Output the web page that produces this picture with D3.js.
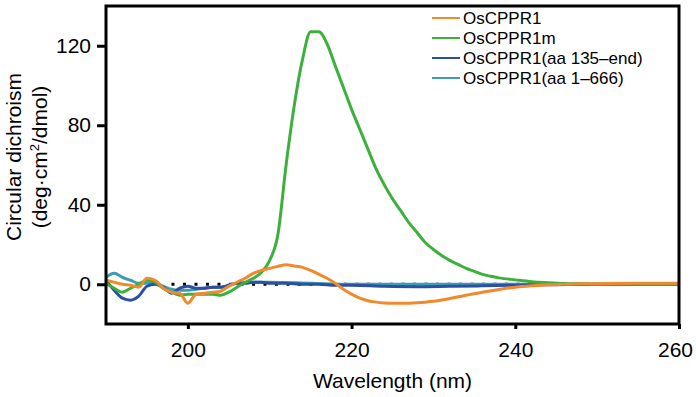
<!DOCTYPE html>
<html>
<head>
<meta charset="utf-8">
<script src="https://cdn.jsdelivr.net/npm/d3@7"></script>
<style>
  html, body { margin: 0; padding: 0; background: #fff; }
  svg { display: block; font-family: "Liberation Sans", Arial, sans-serif; }
</style>
</head>
<body>
<svg id="chart" width="696" height="397"></svg>
<script>
// --- data ---
const xTicks = [200, 220, 240, 260];
const yTicks = [0, 40, 80, 120];

const seriesNames = ['OsCPPR1', 'OsCPPR1m', 'OsCPPR1(aa 135\u2013end)', 'OsCPPR1(aa 1\u2013666)'];
const seriesColors = ['#f08a2c', '#3cb03c', '#2a4fa3', '#3d9db3'];

const wlOrange = [190, 191, 192, 193, 194, 195, 196, 197, 198, 199, 200, 201, 202, 203, 204, 205, 206, 207, 208, 209, 210, 211, 212, 213, 214, 215, 216, 217, 218, 219, 220, 221, 222, 223, 224, 225, 226, 227, 228, 229, 230, 232, 234, 236, 238, 240, 242, 244, 246, 250, 255, 260];
const cdOrange = [2, 1, 0, -0.5, -1.5, 3, 2, -2, -4, -4.5, -9.5, -5, -4.5, -4, -3.5, -1, 1, 3, 5.5, 7, 8, 9, 9.8, 9.2, 8.5, 7, 5, 3, 0.5, -2.5, -5, -7, -8.3, -9, -9.4, -9.6, -9.6, -9.5, -9.3, -9, -8.6, -7.2, -5.5, -4, -2.6, -1.5, -0.8, -0.3, 0, 0.3, 0.5, 0.5];

const wlGreen = [190, 191, 192, 193, 194, 195, 196, 197, 198, 199, 200, 201, 202, 203, 204, 205, 206, 207, 208, 209, 210, 211, 212, 213, 214, 215, 216, 217, 218, 219, 220, 221, 222, 223, 224, 225, 226, 227, 228, 229, 230, 231, 232, 233, 234, 235, 236, 237, 238, 240, 242, 244, 246, 248, 250, 260];
const cdGreen = [0.5, -2, -4, -2, 0, 2, 1, -2, -4, -5.5, -5, -5, -5, -5, -5.5, -4, -1.5, 1, 3, 6, 12, 25, 60, 90, 113, 127, 127, 121, 110, 99, 88, 78, 68, 58, 50, 43, 37, 31, 26, 21, 17.5, 14.5, 12, 10, 8, 6.5, 5, 4, 3.2, 2.2, 1.3, 0.8, 0.4, 0.2, 0, 0];

const wlBlue = [190, 191, 192, 193, 194, 195, 196, 197, 198, 199, 200, 201, 202, 203, 204, 205, 206, 207, 208, 209, 210, 212, 214, 216, 218, 220, 224, 228, 232, 236, 240, 245, 250, 260];
const cdBlue = [2, -3, -7, -8, -6, -1, 0, -1.5, -4.5, -2, -1, -2, -2, -1.5, -1.5, -0.5, 0.5, 0.5, 1, 1, 0.5, 0.5, 0, 0, -0.5, -0.5, -1, -1.2, -1, -0.8, -0.5, -0.2, 0, 0];

const wlTeal = [190, 191, 192, 193, 194, 195, 196, 197, 198, 199, 200, 201, 202, 203, 204, 205, 206, 208, 210, 215, 220, 230, 240, 250, 260];
const cdTeal = [3.5, 5.5, 3.5, 2, 0.5, 0.5, 0.5, -1, -2.5, -3, -3, -2.5, -2, -1.5, -1.5, -0.5, 0.5, 1, 1, 0.5, 0, 0, 0, 0, 0];

const baselineRange = [198, 250];

// --- layout ---
const margin = { left: 106, right: 17, top: 6, bottom: 73 };
const W = 696, H = 397;
const svg = d3.select('#chart');

const xScale = d3.scaleLinear().domain([190, 260]).range([margin.left, W - margin.right]);
const yScale = d3.scaleLinear().domain([-20, 140]).range([H - margin.bottom, margin.top]);

const zip = (wl, cd) => wl.map((w, i) => ({ w: w, v: cd[i] }));
const series = [
    { name: seriesNames[0], color: seriesColors[0], data: zip(wlOrange, cdOrange) },
    { name: seriesNames[1], color: seriesColors[1], data: zip(wlGreen, cdGreen) },
    { name: seriesNames[2], color: seriesColors[2], data: zip(wlBlue, cdBlue) },
    { name: seriesNames[3], color: seriesColors[3], data: zip(wlTeal, cdTeal) },
];

// dotted zero line
svg.append('line')
    .attr('x1', xScale(baselineRange[0]))
    .attr('x2', xScale(baselineRange[1]))
    .attr('y1', yScale(0))
    .attr('y2', yScale(0))
    .attr('stroke', '#000')
    .attr('stroke-width', 3)
    .attr('stroke-dasharray', '3,8.5');

const line = d3.line()
    .x((d) => xScale(d.w))
    .y((d) => yScale(d.v))
    .curve(d3.curveMonotoneX);

// draw order: teal, blue, green, orange (orange on top)
const drawOrder = [3, 2, 1, 0];
svg.append('g')
    .selectAll('path')
    .data(drawOrder.map((i) => series[i]))
    .join('path')
    .attr('d', (d) => line(d.data))
    .attr('fill', 'none')
    .attr('stroke', (d) => d.color)
    .attr('stroke-width', 3)
    .attr('stroke-linejoin', 'round');

// axes
const xAxis = svg.append('g')
    .attr('transform', `translate(0,${H - margin.bottom})`)
    .call(d3.axisBottom(xScale).tickValues(xTicks).tickSize(5).tickPadding(13));
const yAxis = svg.append('g')
    .attr('transform', `translate(${margin.left},0)`)
    .call(d3.axisLeft(yScale).tickValues(yTicks).tickSize(9).tickPadding(6));

[xAxis, yAxis].forEach((g) => {
    g.select('.domain').remove();
    g.selectAll('.tick line').attr('stroke', '#000').attr('stroke-width', 3);
    g.selectAll('.tick text')
        .attr('fill', '#000')
        .style('font-size', '21px')
        .style('font-family', '"Liberation Sans", Arial, sans-serif');
});
xAxis.selectAll('.tick text')
    .filter((d) => d === 260)
    .attr('dx', '-4px');

// frame
svg.append('rect')
    .attr('x', margin.left)
    .attr('y', margin.top)
    .attr('width', W - margin.left - margin.right)
    .attr('height', H - margin.top - margin.bottom)
    .attr('fill', 'none')
    .attr('stroke', '#000')
    .attr('stroke-width', 3);

// axis titles
svg.append('text')
    .attr('x', (margin.left + W - margin.right) / 2)
    .attr('y', 388)
    .attr('text-anchor', 'middle')
    .style('font-size', '21px')
    .text('Wavelength (nm)');

const yTitle = svg.append('text')
    .attr('transform', 'translate(0,157) rotate(-90)')
    .attr('text-anchor', 'middle')
    .style('font-size', '21px');
yTitle.append('tspan').attr('x', 0).attr('y', 21).text('Circular dichroism');
const t2 = yTitle.append('tspan').attr('x', 0).attr('y', 47);
t2.append('tspan').text('(deg\u00b7cm');
t2.append('tspan').attr('dy', -8).style('font-size', '13px').text('2');
t2.append('tspan').attr('dy', 8).text('/dmol)');

// legend
const legend = svg.append('g').attr('transform', 'translate(432,18)');
const rows = legend.selectAll('g')
    .data(series)
    .join('g')
    .attr('transform', (d, i) => `translate(0,${i * 20})`);
rows.append('line')
    .attr('x1', 0).attr('x2', 28)
    .attr('y1', 0).attr('y2', 0)
    .attr('stroke', (d) => d.color)
    .attr('stroke-width', 2);
rows.append('text')
    .attr('x', 31)
    .attr('y', 6)
    .style('font-size', '17px')
    .text((d) => d.name);
</script>
</body>
</html>
